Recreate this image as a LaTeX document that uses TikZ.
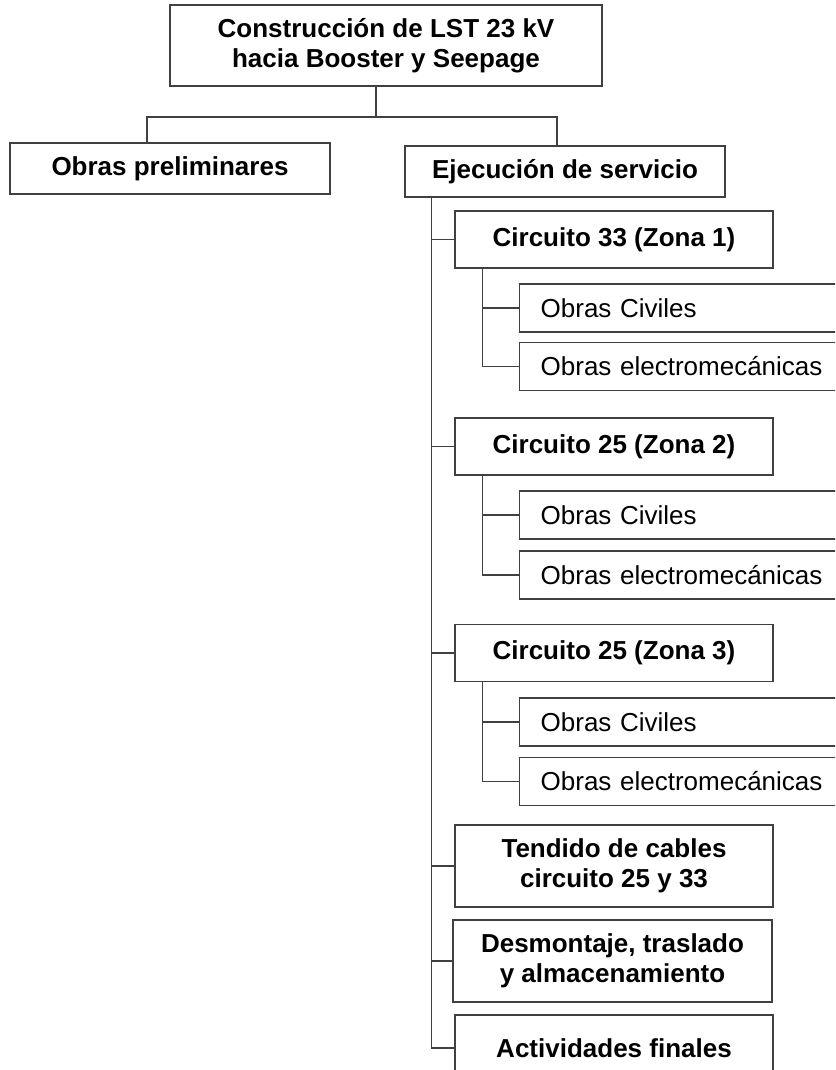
\documentclass[tikz,border=0pt]{standalone}
\usepackage{fontspec}
\setmainfont{Liberation Sans}
\begin{document}
\begin{tikzpicture}[x=1pt,y=-1pt,
  box/.style={draw=black!75, line width=1.3pt, align=center, inner sep=0pt,
    font=\fontsize{26}{30}\selectfont\bfseries},
  leaf/.style={draw=black!75, line width=1.3pt, anchor=west, text width=320pt,
    align=left, inner xsep=21pt, inner ysep=0pt, minimum height=48pt,
    font=\fontsize{26}{30}\selectfont},
  link/.style={draw=black!75, line width=1.3pt}]
\useasboundingbox (0,0) rectangle (835,1070);
\clip (0,0) rectangle (835,1070);

\node[box, minimum width=432pt, minimum height=81pt] (root) at (386,45.5) {Construcción de LST 23 kV\\hacia Booster y Seepage};

\node[box, minimum width=320pt, minimum height=51pt] (prelim) at (170,168.5) {Obras preliminares};
\node[box, minimum width=320pt, minimum height=51pt] (ejec) at (565,171.5) {Ejecución de servicio};

\node[box, minimum width=318pt, minimum height=57pt] (zona1) at (614,239.5) {Circuito 33 (Zona 1)};
\node[leaf] (civ1) at (519,308) {Obras Civiles};
\node[leaf] (elec1) at (519,366.5) {Obras electromecánicas};

\node[box, minimum width=318pt, minimum height=57pt] (zona2) at (614,446.5) {Circuito 25 (Zona 2)};
\node[leaf] (civ2) at (519,515) {Obras Civiles};
\node[leaf] (elec2) at (519,575) {Obras electromecánicas};

\node[box, minimum width=318pt, minimum height=57pt] (zona3) at (614,653) {Circuito 25 (Zona 3)};
\node[leaf] (civ3) at (519,722) {Obras Civiles};
\node[leaf] (elec3) at (519,781.5) {Obras electromecánicas};

\node[box, minimum width=318pt, minimum height=82pt] (tend) at (614,866) {Tendido de cables\\circuito 25 y 33};
\node[box, minimum width=319pt, minimum height=82pt] (desm) at (612.5,961) {Desmontaje, traslado\\y almacenamiento};
\node[box, minimum width=318pt, minimum height=66pt] (act) at (614,1048) {Actividades finales};

% top level
\coordinate (bus) at (376,117);
\draw[link] ([xshift=-10pt]root.south) -- (bus);
\draw[link] ([xshift=-23pt]prelim.north) |- (bus) -| ([xshift=-8pt]ejec.north);

% trunk under Ejecucion de servicio
\draw[link] ([xshift=27pt]ejec.south west) |- (zona1.west);
\draw[link] ([xshift=27pt]ejec.south west) |- (zona2.west);
\draw[link] ([xshift=27pt]ejec.south west) |- (zona3.west);
\draw[link] ([xshift=27pt]ejec.south west) |- (tend.west);
\draw[link] ([xshift=27pt]ejec.south west) |- (desm.west);
\draw[link] ([xshift=27pt]ejec.south west) |- (act.west);

% circuits
\draw[link] ([xshift=28pt]zona1.south west) |- (civ1.west);
\draw[link] ([xshift=28pt]zona1.south west) |- (elec1.west);
\draw[link] ([xshift=28pt]zona2.south west) |- (civ2.west);
\draw[link] ([xshift=28pt]zona2.south west) |- (elec2.west);
\draw[link] ([xshift=28pt]zona3.south west) |- (civ3.west);
\draw[link] ([xshift=28pt]zona3.south west) |- (elec3.west);
\end{tikzpicture}
\end{document}
